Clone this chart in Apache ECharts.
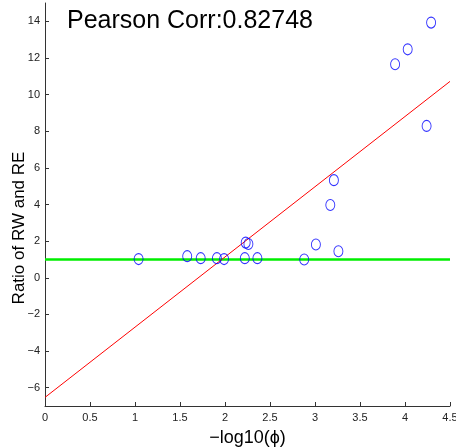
<!DOCTYPE html>
<html>
<head>
<meta charset="utf-8">
<script src="https://cdn.jsdelivr.net/npm/echarts@6/dist/echarts.min.js"></script>
<style>
    html, body { margin: 0; padding: 0; background: #fff; }
    #chart { width: 456px; height: 447px; }
</style>
</head>
<body>
<div id="chart"></div>
<script>
// -log10(phi) vs ratio of RW and RE
var xValues = [1.04, 1.58, 1.73, 1.91, 1.99, 2.22, 2.23, 2.26, 2.36, 2.88, 3.01, 3.26, 3.17, 3.21, 3.89, 4.03, 4.24, 4.29];
var yValues = [1.02, 1.18, 1.07, 1.07, 1.02, 1.07, 1.92, 1.84, 1.07, 1.0, 1.82, 1.45, 3.97, 5.33, 11.66, 12.47, 8.29, 13.93];

// fitted line and reference line end points
var fitLine = [[0, -6.53], [4.5, 10.72]];
var refLine = [[0, 1], [4.5, 1]];

var yTicks = [-6, -4, -2, 0, 2, 4, 6, 8, 10, 12, 14];
var title = 'Pearson Corr:0.82748';

var points = xValues.map(function(x, i) { return [x, yValues[i]]; });

var font = 'Liberation Sans, Arial, sans-serif';
var axisColor = '#333';

var myChart = echarts.init(document.getElementById('chart'));

var option = {
    animation: false,
    grid: { left: 45, right: 6, top: 3, bottom: 41, containLabel: false, outerBoundsMode: 'none' },
    xAxis: {
        type: 'value',
        min: 0,
        max: 4.5,
        interval: 0.5,
        splitLine: { show: false },
        axisLine: { onZero: false, lineStyle: { color: axisColor, width: 1 } },
        axisTick: { inside: true, length: 4, lineStyle: { color: axisColor } },
        axisLabel: { color: '#222', fontFamily: font, fontSize: 11, margin: 6, showMaxLabel: true }
    },
    yAxis: {
        type: 'value',
        min: -7,
        max: 15,
        splitLine: { show: false },
        axisLine: { show: true, onZero: false, lineStyle: { color: axisColor, width: 1 } },
        axisTick: { inside: true, length: 4, customValues: yTicks, lineStyle: { color: axisColor } },
        axisLabel: {
            color: '#222', fontFamily: font, fontSize: 11, margin: 5, customValues: yTicks,
            formatter: function(v) { return String(v).replace('-', '\u2212'); }
        }
    },
    graphic: [
        {
            type: 'text', left: 67, top: 9,
            style: { text: title, fontFamily: font, fontSize: 25, fill: '#000' }
        },
        {
            type: 'text', x: 19, y: 228, rotation: Math.PI / 2,
            style: { text: 'Ratio of RW and RE', fontFamily: font, fontSize: 17, fill: '#000', align: 'center', verticalAlign: 'middle' }
        },
        {
            type: 'text', x: 247.5, y: 438,
            style: { text: '\u2212log10(\u03d5)', fontFamily: font, fontSize: 18, fill: '#000', align: 'center', verticalAlign: 'middle' }
        }
    ],
    series: [
        {
            type: 'line',
            data: refLine,
            symbol: 'none',
            lineStyle: { color: '#00ee00', width: 2.5 },
            z: 1
        },
        {
            type: 'line',
            data: fitLine,
            symbol: 'none',
            lineStyle: { color: '#ff0000', width: 1 },
            z: 2
        },
        {
            type: 'scatter',
            data: points,
            symbol: 'circle',
            symbolSize: [9, 11],
            itemStyle: { color: 'rgba(0,0,0,0)', borderColor: '#0000ff', borderWidth: 1 },
            z: 3
        }
    ]
};

myChart.setOption(option);
</script>
</body>
</html>
